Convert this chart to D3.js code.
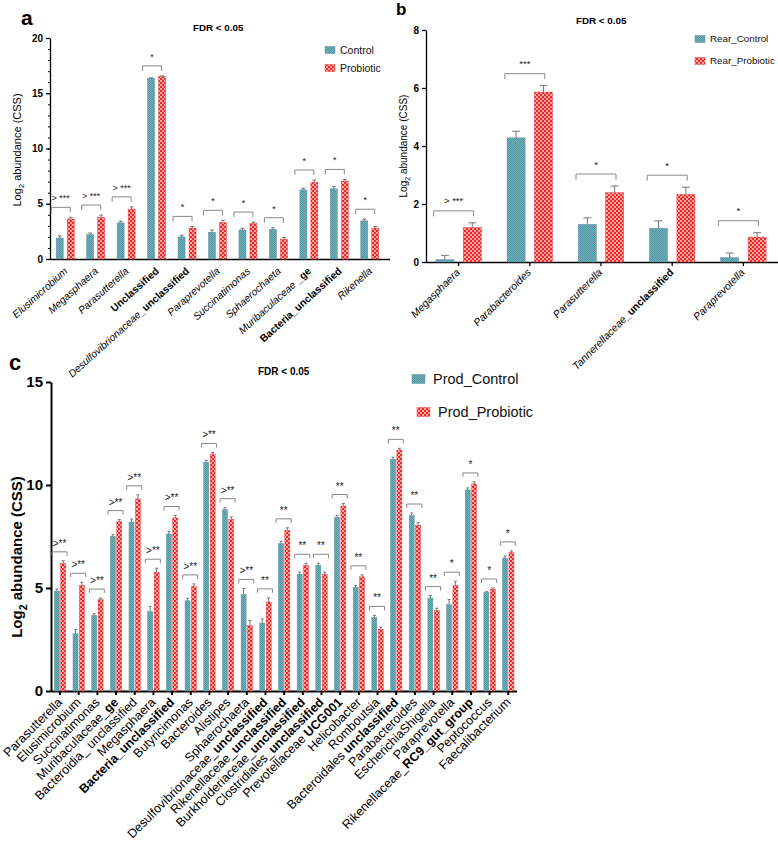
<!DOCTYPE html>
<html><head><meta charset="utf-8">
<script src="https://cdn.jsdelivr.net/npm/d3@7"></script>
<style>body{margin:0;background:#fff} svg{display:block;font-family:Arial,"Liberation Sans",sans-serif}</style>
</head><body><svg id="chart" width="778" height="852"></svg>
<script>
// ---------- Panel a ----------
const aCategories = ["Elusimicrobium","Megasphaera","Parasutterella","<b>Unclassified</b>","Desulfovibrionaceae_<b>unclassified</b>","Paraprevotella","Succinatimonas","Sphaerochaeta","Muribaculaceae <b>_ge</b>","<b>Bacteria_unclassified</b>","Rikenella"];
const aControl      = [1.9, 2.2, 3.27, 16.35, 2.0, 2.42, 2.63, 2.68, 6.25, 6.35, 3.45];
const aControlErr   = [0.2, 0.15, 0.15, 0.05, 0.15, 0.2, 0.15, 0.15, 0.15, 0.2, 0.15];
const aProbiotic    = [3.62, 3.78, 4.52, 16.52, 2.8, 3.3, 3.22, 1.8, 6.95, 7.05, 2.8];
const aProbioticErr = [0.15, 0.2, 0.2, 0.05, 0.15, 0.2, 0.12, 0.15, 0.2, 0.15, 0.15];
const aSig = ["> ***","> ***","> ***","*","*","*","*","*","*","*","*"];
const aTicks = [0,5,10,15,20];
const aLegend = ["Control","Probiotic"];

// ---------- Panel b ----------
const bCategories = ["Megasphaera","Parabacteroides","Parasutterella","Tannerellaceae_<b>unclassified</b>","Paraprevotella"];
const bControl      = [0.08, 4.28, 1.3, 1.16, 0.15];
const bControlErr   = [0.15, 0.23, 0.22, 0.26, 0.16];
const bProbiotic    = [1.19, 5.86, 2.39, 2.33, 0.86];
const bProbioticErr = [0.16, 0.22, 0.23, 0.25, 0.15];
const bSig = ["> ***","***","*","*","*"];
const bTicks = [0,2,4,6,8];
const bLegend = ["Rear_Control","Rear_Probiotic"];

// ---------- Panel c ----------
const cCategories = ["Parasutterella","Elusimicrobium","Succinatimonas","Muribaculaceae_<b>ge</b>","Bacteroidia_ unclassified","Megasphaera","<b>Bacteria_unclassified</b>","Butyricimonas","Bacteroides","Alistipes","Sphaerochaeta","Desulfovibrionaceae_<b>unclassified</b>","Rikenellaceae_<b>unclassified</b>","Burkholderiaceae_<b>unclassified</b>","Clostridiales_<b>unclassified</b>","Prevotellaceae <b>UCG001</b>","Helicobacter","Romboutsia","Bacteroidales <b>unclassified</b>","Parabacteroides","EscherichiaShigella","Paraprevotella","Rikenellaceae_<b>RC9_gut_group</b>","Peptococcus","Faecalibacterium"];
const cControl      = [4.85, 2.78, 3.67, 7.5, 8.2, 3.86, 7.62, 4.38, 11.1, 8.8, 4.68, 3.3, 7.15, 5.67, 6.1, 8.42, 5.03, 3.57, 11.25, 8.52, 4.51, 4.19, 9.76, 4.77, 6.45];
const cControlErr   = [0.1, 0.2, 0.08, 0.1, 0.15, 0.25, 0.12, 0.12, 0.1, 0.1, 0.3, 0.2, 0.12, 0.1, 0.1, 0.1, 0.1, 0.1, 0.1, 0.12, 0.12, 0.25, 0.1, 0.05, 0.1];
const cProbiotic    = [6.2, 5.13, 4.43, 8.22, 9.32, 5.76, 8.4, 5.08, 11.5, 8.33, 3.17, 4.32, 7.8, 6.1, 5.67, 8.98, 5.54, 3.0, 11.7, 8.05, 3.9, 5.13, 10.05, 4.95, 6.72];
const cProbioticErr = [0.12, 0.15, 0.08, 0.1, 0.2, 0.2, 0.12, 0.12, 0.08, 0.12, 0.25, 0.2, 0.12, 0.1, 0.1, 0.12, 0.1, 0.1, 0.08, 0.12, 0.12, 0.2, 0.1, 0.05, 0.08];
const cSig = [">**",">**",">**",">**",">**",">**",">**",">**",">**",">**",">**","**","**","**","**","**","**","**","**","**","**","*","*","*","*"];
const cTicks = [0,5,10,15];
const cLegend = ["Prod_Control","Prod_Probiotic"];

const svg = d3.select("#chart");
const defs = svg.append("defs");
// patterned fills
const pt = defs.append("pattern").attr("id","teal").attr("width",2).attr("height",2).attr("patternUnits","userSpaceOnUse");
pt.append("rect").attr("width",2).attr("height",2).attr("fill","#72b1bc");
pt.append("rect").attr("width",1).attr("height",1).attr("fill","#5396a3");
pt.append("rect").attr("x",1).attr("y",1).attr("width",1).attr("height",1).attr("fill","#5396a3");
const pr = defs.append("pattern").attr("id","red").attr("width",4).attr("height",4).attr("patternUnits","userSpaceOnUse");
pr.append("rect").attr("width",4).attr("height",4).attr("fill","#f72424");
pr.append("rect").attr("width",2).attr("height",2).attr("fill","#ffa8a8");
pr.append("rect").attr("x",2).attr("y",2).attr("width",2).attr("height",2).attr("fill","#ffa8a8");

function rich(sel, str, italic){
  str.split(/(<b>.*?<\/b>)/).filter(s=>s.length).forEach(part=>{
    const b = part.startsWith("<b>");
    sel.append("tspan").text(b ? part.slice(3,-4) : part)
      .attr("fill","#000")
      .attr("font-weight", b ? "bold" : "normal")
      .attr("font-style", (!b && italic) ? "italic" : "normal");
  });
}

function panel(p){
  const g = svg.append("g");
  const x = d3.scaleBand().domain(p.cats.map((d,i)=>i)).range(p.xRange);
  const y = d3.scaleLinear().domain([0,p.yMax]).range([p.y0,p.yTop]);
  const cx = i => x(i) + x.bandwidth()/2;

  if (p.minor) {
    g.append("g").attr("transform",`translate(${p.yAxisX},0)`)
      .call(d3.axisLeft(y).tickValues(d3.range(0,p.yMax+1,1)).tickSize(2).tickFormat(""))
      .call(s=>s.select(".domain").remove())
      .call(s=>s.selectAll("line").attr("stroke","#000").attr("stroke-width",1));
  }
  const ya = g.append("g").attr("transform",`translate(${p.yAxisX},0)`)
    .call(d3.axisLeft(y).tickValues(p.ticks).tickSize(p.tickLen).tickSizeOuter(0).tickPadding(3).tickFormat(d3.format("d")));
  ya.select(".domain").attr("stroke-width",p.axisW);
  ya.selectAll("line").attr("stroke-width",p.axisW);
  ya.selectAll("text").attr("font-size",p.tickFont).attr("font-weight","bold").attr("font-family","Arial,'Liberation Sans',sans-serif").attr("fill","#000");

  const xa = g.append("g").attr("transform",`translate(0,${p.y0})`)
    .call(d3.axisBottom(x).tickSize(p.xTickLen).tickSizeOuter(0).tickFormat(""));
  xa.select(".domain").attr("d",`M${p.yAxisX},0.5H${p.xAxisEnd}`).attr("stroke-width",p.axisW);
  xa.selectAll("line").attr("stroke-width",p.axisW);

  const series = [
    {v:p.ctrl, e:p.ctrlErr, fill:"url(#teal)", stroke:"#5d8f98", off:-p.halfGap-p.bw},
    {v:p.prob, e:p.probErr, fill:"url(#red)", stroke:"#d94a4a", off:p.halfGap}
  ];
  series.forEach(s=>{
    const gs = g.append("g");
    gs.selectAll("rect").data(s.v).join("rect")
      .attr("x",(d,i)=>cx(i)+s.off).attr("width",p.bw)
      .attr("y",d=>y(d)).attr("height",d=>y(0)-y(d))
      .attr("fill",s.fill).attr("stroke",s.stroke).attr("stroke-width",0.5);
    const eb = gs.selectAll("g.eb").data(s.v).join("g").attr("class","eb");
    eb.append("line")
      .attr("x1",(d,i)=>cx(i)+s.off+p.bw/2).attr("x2",(d,i)=>cx(i)+s.off+p.bw/2)
      .attr("y1",d=>y(d)).attr("y2",(d,i)=>y(d+s.e[i]))
      .attr("stroke","#777").attr("stroke-width",1);
    eb.append("line")
      .attr("x1",(d,i)=>cx(i)+s.off+p.bw/2-p.capW/2).attr("x2",(d,i)=>cx(i)+s.off+p.bw/2+p.capW/2)
      .attr("y1",(d,i)=>y(d+s.e[i])).attr("y2",(d,i)=>y(d+s.e[i]))
      .attr("stroke","#777").attr("stroke-width",1);
  });

  p.sig.forEach((t,i)=>{
    const top = Math.min(y(p.ctrl[i]+p.ctrlErr[i]), y(p.prob[i]+p.probErr[i])) - p.brGap;
    const l = cx(i)+p.brL, r = cx(i)+p.brR;
    g.append("path").attr("d",`M${l},${top+p.brTick}V${top}H${r}V${top+p.brTick}`)
      .attr("fill","none").attr("stroke","#888").attr("stroke-width",1);
    g.append("text").attr("x",(l+r)/2).attr("y",top-p.txtOff).attr("text-anchor","middle")
      .attr("font-size",p.sigFont).attr("fill","#222").text(t);
  });

  p.cats.forEach((c,i)=>{
    const t = g.append("text")
      .attr("transform",`translate(${cx(i)+p.lblDx},${p.lblY}) rotate(${p.lblRot})`)
      .attr("text-anchor","end").attr("font-size",p.lblFont).attr("fill","#000");
    rich(t,c,p.italic);
  });

  const yl = g.append("text")
    .attr("transform",`translate(${p.yLblX},${p.yLblY}) rotate(-90)`)
    .attr("text-anchor","middle").attr("font-size",p.yLblFont).attr("font-weight",p.yLblBold?"bold":"normal").attr("fill","#000");
  yl.append("tspan").text("Log");
  yl.append("tspan").text("2").attr("font-size",p.yLblFont*0.7).attr("dy",p.yLblFont*0.3);
  yl.append("tspan").text(" abundance (CSS)").attr("dy",-p.yLblFont*0.3);

  g.append("text").attr("x",p.titleX).attr("y",p.titleY).attr("font-size",p.titleFont).attr("font-weight","bold").text("FDR < 0.05");
  g.append("text").attr("x",p.letterX).attr("y",p.letterY).attr("font-size",p.letterFont).attr("font-weight","bold").text(p.letter);

  p.legend.forEach((name,k)=>{
    const lx = p.legX + k*p.legShift, ly = p.legY + k*p.legStep;
    g.append("rect").attr("x",lx).attr("y",ly-p.legH/2).attr("width",p.legW).attr("height",p.legH)
      .attr("fill",k?"url(#red)":"url(#teal)").attr("stroke",k?"#d94a4a":"#5d8f98").attr("stroke-width",0.5);
    g.append("text").attr("x",lx+p.legW+p.legPad).attr("y",ly).attr("dy","0.35em")
      .attr("font-size",p.legFont).attr("fill","#111").text(name);
  });
}

panel({cats:aCategories, ctrl:aControl, ctrlErr:aControlErr, prob:aProbiotic, probErr:aProbioticErr, sig:aSig,
  ticks:aTicks, yMax:20, y0:259, yTop:38, xRange:[50,385], yAxisX:50, xAxisEnd:390, minor:true,
  tickLen:4, tickFont:10, axisW:1.3, xTickLen:0, bw:7, halfGap:2, capW:4,
  brL:-14, brR:5, brTick:5, brGap:10, txtOff:6, sigFont:9,
  lblDx:3, lblY:272, lblRot:-42, lblFont:10.3, italic:true,
  yLblX:21, yLblY:150, yLblFont:11, yLblBold:false,
  titleX:193, titleY:31, titleFont:9.8, letter:"a", letterX:21, letterY:25, letterFont:21,
  legend:aLegend, legX:325, legY:50, legStep:18, legShift:0, legW:10, legH:7, legPad:5, legFont:10.5});

panel({cats:bCategories, ctrl:bControl, ctrlErr:bControlErr, prob:bProbiotic, probErr:bProbioticErr, sig:bSig,
  ticks:bTicks, yMax:8, y0:262, yTop:30, xRange:[423,779], yAxisX:426, xAxisEnd:778, minor:false,
  tickLen:4, tickFont:10, axisW:1.3, xTickLen:4, bw:18, halfGap:4.7, capW:8,
  brL:-25, brR:15, brTick:5.5, brGap:12, txtOff:6.5, sigFont:9.5,
  lblDx:2, lblY:273, lblRot:-45, lblFont:10.5, italic:true,
  yLblX:407, yLblY:146, yLblFont:10, yLblBold:false,
  titleX:576, titleY:24, titleFont:9.8, letter:"b", letterX:396, letterY:15, letterFont:17,
  legend:bLegend, legX:695, legY:39, legStep:22, legShift:0, legW:10, legH:7, legPad:5, legFont:9.8});

panel({cats:cCategories, ctrl:cControl, ctrlErr:cControlErr, prob:cProbiotic, probErr:cProbioticErr, sig:cSig,
  ticks:cTicks, yMax:15, y0:691, yTop:382, xRange:[50.7,517.6], yAxisX:51, xAxisEnd:517, minor:false,
  tickLen:5, tickFont:15, axisW:2, xTickLen:4, bw:5, halfGap:0.7, capW:3,
  brL:-8, brR:7, brTick:4, brGap:9, txtOff:5, sigFont:10,
  lblDx:3, lblY:703, lblRot:-45, lblFont:12.5, italic:false,
  yLblX:22, yLblY:557, yLblFont:15, yLblBold:true,
  titleX:258, titleY:375, titleFont:10, letter:"c", letterX:9, letterY:370, letterFont:22,
  legend:cLegend, legX:412, legY:379, legStep:33, legShift:5, legW:13, legH:9, legPad:8, legFont:14.5});
</script></body></html>
